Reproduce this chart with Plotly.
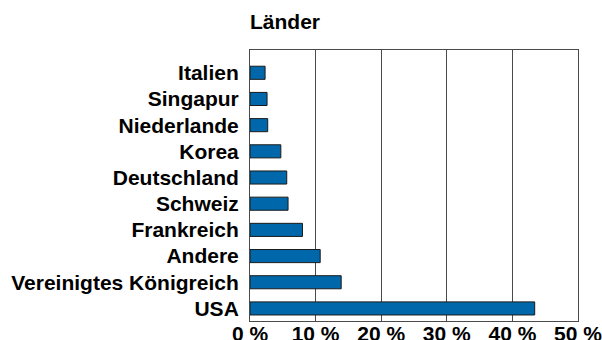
import plotly.graph_objects as go

# Shares by country, listed bottom to top
countries = ["USA", "Vereinigtes Königreich", "Andere", "Frankreich", "Schweiz",
             "Deutschland", "Korea", "Niederlande", "Singapur", "Italien"]
shares = [43.4, 13.9, 10.7, 8.0, 5.8, 5.6, 4.7, 2.7, 2.6, 2.3]

tick_vals = [0, 10, 20, 30, 40, 50]
tick_text = ["0 %", "10 %", "20 %", "30 %", "40 %", "50 %"]

FONT = "Arial, 'Liberation Sans', sans-serif"
LINE = "#4a4a4a"
SIZE = 21

fig = go.Figure(
    go.Bar(
        x=shares,
        y=countries,
        orientation="h",
        marker=dict(color="#0068AA", line=dict(color="#1a1a1a", width=1)),
        hoverinfo="x+y",
    )
)

fig.update_layout(
    width=602,
    height=340,
    margin=dict(l=250, r=24, t=50, b=19),
    paper_bgcolor="white",
    plot_bgcolor="white",
    bargap=0.5,
    showlegend=False,
    font=dict(family=FONT, size=SIZE, color="black", weight="bold"),
    title=dict(
        text="Länder",
        font=dict(family=FONT, size=SIZE, color="black", weight="bold"),
        xref="paper", x=0, xanchor="left",
        yref="container", y=1 - 22 / 340, yanchor="middle",
    ),
)

fig.update_xaxes(
    range=[0, 50],
    tickvals=tick_vals,
    ticktext=tick_text,
    automargin=False,
    ticklabeloverflow="allow",
    ticklabelstandoff=-6,
    showgrid=True,
    gridcolor=LINE,
    gridwidth=1,
    showline=True,
    linecolor=LINE,
    linewidth=1,
    mirror=True,
    ticks="",
    zeroline=False,
    tickfont=dict(family=FONT, size=SIZE, color="black", weight="bold"),
)

fig.update_yaxes(
    type="category",
    categoryorder="array",
    categoryarray=countries,
    range=[-0.48, 9.87],
    automargin=False,
    showgrid=False,
    showline=True,
    linecolor=LINE,
    linewidth=1,
    mirror=True,
    ticks="",
    ticklabelstandoff=6,
    tickfont=dict(family=FONT, size=SIZE, color="black", weight="bold"),
)

fig.write_html("out.html")
